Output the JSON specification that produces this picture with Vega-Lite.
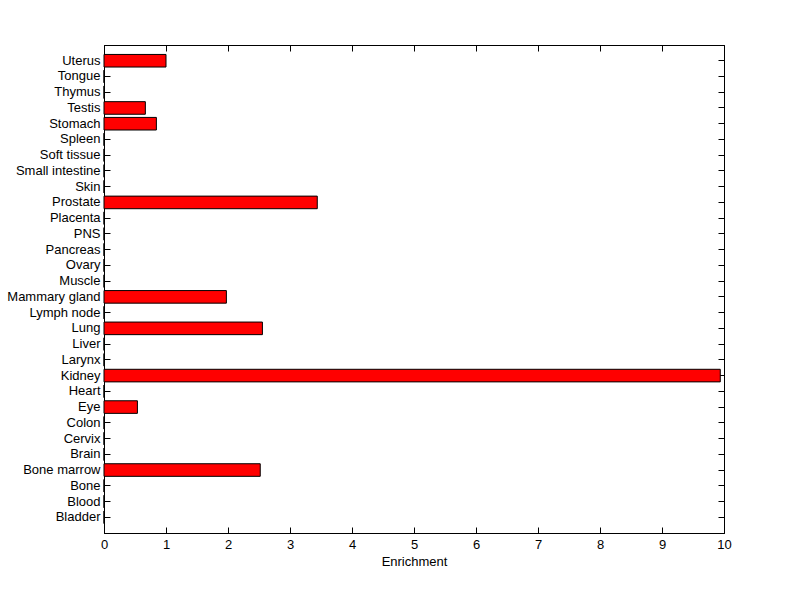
{
  "$schema": "https://vega.github.io/schema/vega-lite/v6.json",
  "width": 620,
  "height": 488,
  "autosize": {"type": "none"},
  "padding": {"left": 104, "top": 45, "right": 76, "bottom": 66},
  "background": "white",
  "config": {
    "view": {"stroke": "black", "strokeWidth": 1},
    "axis": {
      "domainColor": "black",
      "tickColor": "black",
      "labelColor": "black",
      "titleColor": "black",
      "labelFont": "Liberation Sans",
      "titleFont": "Liberation Sans",
      "labelFontSize": 13,
      "titleFontSize": 13,
      "titleFontWeight": "normal",
      "grid": false,
      "tickSize": -6,
      "labelFlush": false
    }
  },
  "data": {
    "values": [
      {"tissue": "Uterus", "enrichment": 1.0},
      {"tissue": "Tongue", "enrichment": 0},
      {"tissue": "Thymus", "enrichment": 0},
      {"tissue": "Testis", "enrichment": 0.667},
      {"tissue": "Stomach", "enrichment": 0.845},
      {"tissue": "Spleen", "enrichment": 0},
      {"tissue": "Soft tissue", "enrichment": 0},
      {"tissue": "Small intestine", "enrichment": 0},
      {"tissue": "Skin", "enrichment": 0},
      {"tissue": "Prostate", "enrichment": 3.44},
      {"tissue": "Placenta", "enrichment": 0},
      {"tissue": "PNS", "enrichment": 0},
      {"tissue": "Pancreas", "enrichment": 0},
      {"tissue": "Ovary", "enrichment": 0},
      {"tissue": "Muscle", "enrichment": 0},
      {"tissue": "Mammary gland", "enrichment": 1.974},
      {"tissue": "Lymph node", "enrichment": 0},
      {"tissue": "Lung", "enrichment": 2.555},
      {"tissue": "Liver", "enrichment": 0},
      {"tissue": "Larynx", "enrichment": 0},
      {"tissue": "Kidney", "enrichment": 9.94},
      {"tissue": "Heart", "enrichment": 0},
      {"tissue": "Eye", "enrichment": 0.539},
      {"tissue": "Colon", "enrichment": 0},
      {"tissue": "Cervix", "enrichment": 0},
      {"tissue": "Brain", "enrichment": 0},
      {"tissue": "Bone marrow", "enrichment": 2.52},
      {"tissue": "Bone", "enrichment": 0},
      {"tissue": "Blood", "enrichment": 0},
      {"tissue": "Bladder", "enrichment": 0}
    ]
  },
  "layer": [
    {
      "mark": {"type": "bar", "color": "#ff0000", "stroke": "black", "strokeWidth": 1},
      "encoding": {
        "y": {
          "field": "tissue", "type": "nominal", "sort": null,
          "scale": {"paddingInner": 0.2, "paddingOuter": 0.6},
          "axis": {"title": null, "orient": "left", "labelPadding": 10}
        },
        "x": {
          "field": "enrichment", "type": "quantitative",
          "scale": {"domain": [0, 10], "nice": false},
          "axis": {"title": "Enrichment", "orient": "bottom", "tickCount": 10, "labelPadding": 11, "titlePadding": 4}
        }
      }
    },
    {
      "mark": {"type": "bar", "opacity": 0},
      "encoding": {
        "y": {
          "field": "tissue", "type": "nominal", "sort": null,
          "axis": {"title": null, "orient": "right", "labels": false}
        },
        "x": {
          "field": "enrichment", "type": "quantitative",
          "axis": {"title": null, "orient": "top", "labels": false, "tickCount": 10}
        }
      }
    }
  ],
  "resolve": {"axis": {"x": "independent", "y": "independent"}}
}
